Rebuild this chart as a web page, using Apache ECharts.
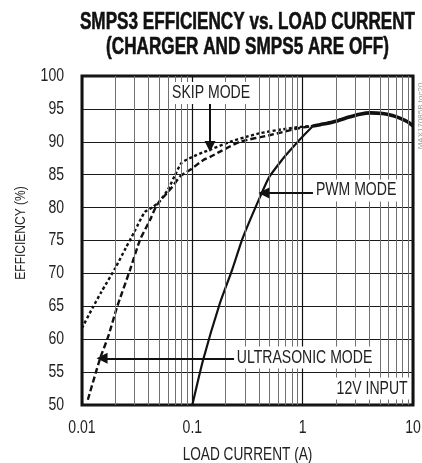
<!DOCTYPE html>
<html>
<head>
<meta charset="utf-8">
<script src="https://cdn.jsdelivr.net/npm/echarts@6/dist/echarts.min.js"></script>
<style>
  html, body { margin: 0; padding: 0; background: #fff; }
  #chart { width: 422px; height: 463px; }
</style>
</head>
<body>
<div id="chart"></div>
<script>
  // load current (A) / efficiency (%)
  var skipCurrent = [0.01, 0.0125, 0.015, 0.02, 0.025, 0.03, 0.037, 0.044, 0.05, 0.06, 0.07, 0.08, 0.1, 0.125, 0.15, 0.22, 0.3, 0.41, 0.6, 0.8, 1.0, 1.24]
  var skipEff = [61.7, 64.8, 67.2, 70.8, 73.9, 76.4, 79.3, 80.1, 80.9, 82.7, 85.0, 86.8, 87.7, 88.4, 88.9, 90.0, 90.7, 91.3, 91.8, 92.1, 92.3, 92.4]

  var ultraCurrent = [0.0113, 0.0146, 0.0172, 0.0208, 0.0272, 0.0336, 0.0413, 0.0478, 0.0654, 0.077, 0.086, 0.095, 0.125, 0.145, 0.178, 0.27, 0.5, 0.94, 1.24]
  var ultraEff = [50.8, 57.1, 60.3, 64.9, 70.5, 75.1, 78.1, 80.4, 83.1, 84.7, 85.3, 85.7, 87.2, 87.7, 88.5, 90.0, 91.0, 92.1, 92.4]

  var pwmCurrent = [0.1, 0.125, 0.178, 0.229, 0.288, 0.41, 0.5, 0.66, 0.76, 1.0, 1.24]
  var pwmEff = [50, 56.8, 65.5, 70.5, 75.5, 81.6, 84.7, 87.4, 88.6, 90.8, 92.4]

  var sharedCurrent = [1.24, 1.44, 1.88, 2.69, 3.3, 4.1, 5.3, 6.5, 7.6, 9.0, 10]
  var sharedEff = [92.4, 92.6, 93.0, 93.8, 94.2, 94.4, 94.3, 94.0, 93.6, 93.0, 92.4]

  var xTicks = [0.01, 0.1, 1, 10]
  var yTicks = [50, 55, 60, 65, 70, 75, 80, 85, 90, 95, 100]

  // minor log grid: 2..9 in every decade
  var minorGrid = []
  ;[0.01, 0.1, 1].forEach(function (d) {
    for (var k = 2; k <= 9; k++) minorGrid.push(+(k * d).toPrecision(3))
  })

  // text annotations [current, efficiency, text]
  var notes = [
    [0.148, 97.4, 'SKIP MODE'],
    [3.05, 82.6, 'PWM MODE'],
    [1.04, 57.2, 'ULTRASONIC MODE'],
    [4.26, 52.5, '12V INPUT']
  ]
  // arrows [[fromI, fromEff], [toI, toEff]]
  var arrows = [
    [[0.1446, 95.9], [0.1446, 89.3]],
    [[1.24, 82.2], [0.445, 82.2]],
    [[0.239, 57.1], [0.0152, 57.1]]
  ]

  function zip(xs, ys) {
    return xs.map(function (x, i) { return [x, ys[i]] })
  }

  // no narrow face installed: squeeze Liberation Sans horizontally
  var family = '"Liberation Sans", Arial, sans-serif'
  var squeeze = 0.78

  function label(x, y, text, size, opts) {
    opts = opts || {}
    return {
      type: 'text',
      x: x,
      y: y,
      scaleX: opts.scaleX || squeeze,
      rotation: opts.rotation || 0,
      z: 100,
      silent: true,
      style: {
        text: text,
        font: (opts.weight || 'normal') + ' ' + size + 'px ' + family,
        fill: opts.fill || '#222',
        align: opts.align || 'center',
        verticalAlign: opts.verticalAlign || 'middle',
        lineHeight: opts.lineHeight,
        backgroundColor: opts.bg,
        padding: opts.bg ? [2, 3] : 0,
        stroke: opts.stroke,
        lineWidth: opts.lineWidth || 0
      }
    }
  }

  var chart = echarts.init(document.getElementById('chart'), null, { renderer: 'canvas' })
  chart.setOption({
    animation: false,
    backgroundColor: '#fff',
    grid: {
      left: 82, right: 9, top: 76, bottom: 58,
      show: true,
      borderColor: '#111',
      borderWidth: 3,
      backgroundColor: 'transparent'
    },
    xAxis: {
      type: 'log',
      logBase: 10,
      min: xTicks[0],
      max: xTicks[xTicks.length - 1],
      axisLine: { show: false },
      axisTick: { show: false },
      axisLabel: { show: false },
      splitLine: { show: true, lineStyle: { color: '#111', width: 1.2 } }
    },
    yAxis: {
      type: 'value',
      min: yTicks[0],
      max: yTicks[yTicks.length - 1],
      interval: yTicks[1] - yTicks[0],
      axisLine: { show: false },
      axisTick: { show: false },
      axisLabel: { show: false },
      splitLine: { show: true, lineStyle: { color: '#1a1a1a', width: 1.2 } }
    },
    series: [
      {
        // minor vertical grid
        type: 'line',
        data: [],
        silent: true,
        z: 1,
        markLine: {
          silent: true,
          symbol: 'none',
          label: { show: false },
          lineStyle: { color: '#707070', width: 1, type: 'solid' },
          data: minorGrid.map(function (v) { return { xAxis: v } })
        }
      },
      {
        name: 'SKIP MODE',
        type: 'line',
        data: zip(skipCurrent, skipEff),
        smooth: 0.2,
        showSymbol: false,
        z: 3,
        lineStyle: { color: '#111', width: 2.4, type: [3, 2.5] }
      },
      {
        name: 'ULTRASONIC MODE',
        type: 'line',
        data: zip(ultraCurrent, ultraEff),
        smooth: 0.2,
        showSymbol: false,
        z: 3,
        lineStyle: { color: '#111', width: 2.4, type: [6, 3] }
      },
      {
        name: 'PWM MODE',
        type: 'line',
        data: zip(pwmCurrent, pwmEff),
        smooth: 0.2,
        showSymbol: false,
        z: 3,
        lineStyle: { color: '#111', width: 2.2 }
      },
      {
        name: 'ALL MODES',
        type: 'line',
        data: zip(sharedCurrent, sharedEff),
        smooth: 0.3,
        showSymbol: false,
        z: 3,
        lineStyle: { color: '#111', width: 3.6 }
      },
      {
        // arrows
        type: 'line',
        data: [],
        silent: true,
        z: 5,
        markLine: {
          silent: true,
          symbol: ['none', 'triangle'],
          symbolSize: 11,
          label: { show: false },
          lineStyle: { color: '#111', width: 2, type: 'solid' },
          data: arrows.map(function (a) {
            return [{ coord: a[0] }, { coord: a[1] }]
          })
        }
      }
    ]
  })

  // texts placed through the chart's own scales
  var g = []
  var px = function (v) { return chart.convertToPixel({ xAxisIndex: 0 }, v) }
  var py = function (v) { return chart.convertToPixel({ yAxisIndex: 0 }, v) }
  var plotBottom = py(yTicks[0])
  var plotLeft = px(xTicks[0])
  var plotMid = (px(xTicks[0]) + px(xTicks[xTicks.length - 1])) / 2

  yTicks.forEach(function (v) {
    g.push(label(plotLeft - 18, py(v), String(v), 18, { align: 'right' }))
  })
  xTicks.forEach(function (v) {
    g.push(label(px(v), plotBottom + 23, String(v), 18))
  })
  g.push(label(plotMid, plotBottom + 50, 'LOAD CURRENT (A)', 17.5))
  g.push(label(21, 233, 'EFFICIENCY (%)', 15, { rotation: Math.PI / 2, scaleX: 0.8 }))
  notes.forEach(function (n) {
    var p = chart.convertToPixel({ gridIndex: 0 }, [n[0], n[1]])
    g.push(label(p[0], p[1], n[2], 18, { bg: '#fff' }))
  })
  g.push(label(plotMid, 10, 'SMPS3 EFFICIENCY vs. LOAD CURRENT\n(CHARGER AND SMPS5 ARE OFF)', 24, {
    weight: 'bold', scaleX: 0.714, verticalAlign: 'top', lineHeight: 25, fill: '#111',
    stroke: '#111', lineWidth: 0.6
  }))
  g.push(label(421, 116, 'MAX17085B toc20', 8, { rotation: Math.PI / 2, scaleX: 1, fill: '#999' }))

  chart.setOption({ graphic: g })
</script>
</body>
</html>
